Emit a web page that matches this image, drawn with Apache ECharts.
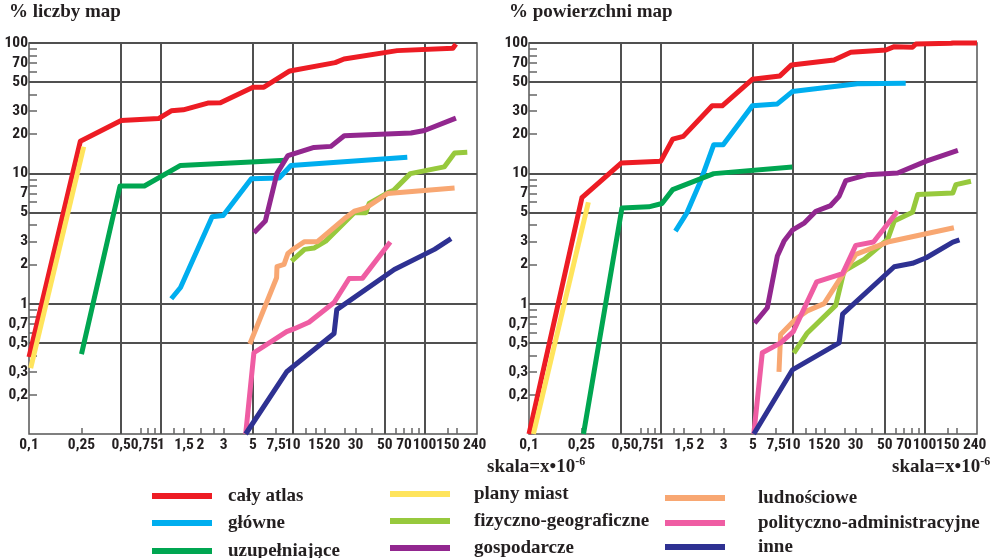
<!DOCTYPE html>
<html>
<head>
<meta charset="utf-8">
<script src="https://cdn.jsdelivr.net/npm/echarts@6/dist/echarts.min.js"></script>
<style>
html,body{margin:0;padding:0;background:#fff;}
#chart{width:995px;height:558px;}
</style>
</head>
<body>
<div id="chart"></div>
<script>
// ---- tick labels / ticks ----
const xTickLabels = [0.1, 0.25, 0.5, 0.75, 1, 1.5, 2, 3, 5, 7.5, 10, 15, 20, 30, 50, 70, 100, 150, 240];
const xMinorTicks = [0.25, 0.7, 0.8, 0.9, 1.25, 1.5, 2, 2.5, 3, 7.5, 12.5, 15, 17.5, 25, 30, 40, 60, 70, 80, 90, 150, 175];
const yTickLabels = [0.2, 0.3, 0.5, 0.7, 1, 2, 3, 5, 7, 10, 20, 30, 50, 70, 100];
const yMinorTicks = [0.2, 0.3, 0.4, 0.6, 0.7, 0.8, 0.9, 2, 3, 4, 6, 7, 8, 9, 20, 30, 40, 60, 70, 80, 90];
const gridValues = [0.5, 1, 5, 10, 50, 100];

// ---- series names ----
const seriesNames = ['cały atlas', 'główne', 'uzupełniające', 'plany miast', 'fizyczno-geograficzne',
  'gospodarcze', 'ludnościowe', 'polityczno-administracyjne', 'inne'];

// ---- left panel: % liczby map ----
const liczbyCalyAtlas = [[0.1,0.39],[0.245,17.6],[0.5,25.4],[0.96,26.3],[1.2,30.2],[1.48,30.7],[2.27,34.6],[2.83,34.8],[5.0,45.8],[6.05,45.8],[9.5,61],[21,70.7],[24.5,75.4],[62,87.4],[164,91],[173,98]];
const liczbyGlowne = [[1.2,1.09],[1.41,1.33],[2.45,4.64],[2.97,4.75],[4.85,9.1],[7.9,9.2],[9.7,11.5],[74,13.3]];
const liczbyUzupelniajace = [[0.25,0.41],[0.49,8.0],[0.75,8.0],[1.41,11.5],[8.9,12.6]];
const liczbyPlanyMiast = [[0.103,0.32],[0.26,16]];
const liczbyFizGeo = [[9.8,2.12],[12.3,2.61],[14.5,2.67],[17.8,3.02],[29.3,4.98],[35.9,4.98],[38,5.87],[52.5,7.08],[58.3,7.4],[78,9.95],[141,11.2],[169,14.3],[211,14.5]];
const liczbyGospodarcze = [[5.08,3.5],[6.2,4.3],[7.6,10.0],[9.2,13.7],[14.5,15.8],[19.5,16.1],[24.6,19.4],[79,20.4],[100,21.3],[173,26.5]];
const liczbyLudnosciowe = [[4.73,0.49],[7.55,1.58],[7.6,1.92],[8.6,2.0],[9.2,2.43],[10.2,2.64],[12.3,2.99],[15.4,2.99],[24.6,4.48],[29.3,5.12],[35.9,5.43],[52.5,7.0],[169,7.73]];
const liczbyPolAdm = [[4.4,0.1],[5.08,0.42],[9.0,0.61],[10.2,0.64],[13.3,0.72],[20.6,1.02],[26.8,1.56],[33.9,1.57],[55,2.97]];
const liczbyInne = [[4.4,0.1],[9.0,0.3],[20.6,0.59],[21.6,0.9],[59,1.83],[119,2.61],[159,3.15]];

// ---- right panel: % powierzchni map ----
const powCalyAtlas = [[0.1,0.1],[0.252,6.5],[0.5,12.0],[1.0,12.4],[1.23,18.3],[1.48,19.2],[2.45,33],[2.92,33],[4.94,52.7],[8.0,55.9],[9.8,67.9],[20.6,74.1],[27.6,84.8],[51,88.4],[58.9,93.7],[81,92.7],[86,98.2],[159,99.4],[165,100],[250,100]];
const powGlowne = [[1.29,3.6],[1.58,5.0],[2.0,8.7],[2.52,16.6],[2.97,16.6],[4.94,33],[7.65,34.1],[9.94,42.4],[31,48.6],[72,49.2]];
const powUzupelniajace = [[0.259,0.1],[0.507,5.43],[0.81,5.53],[1.02,5.87],[1.23,7.5],[2.52,9.95],[9.94,11.2]];
const powPlanyMiast = [[0.108,0.1],[0.282,6.0]];
const powFizGeo = [[10.2,0.417],[12.8,0.59],[21.2,0.97],[24.5,1.78],[34.8,2.19],[52.5,3.11],[58.9,4.3],[81,5.03],[88.8,6.87],[164,7.08],[173,8.19],[225,8.69]];
const powGospodarcze = [[5.14,0.71],[6.42,0.93],[7.65,2.32],[8.6,3.02],[9.94,3.66],[12.3,4.17],[15,5.12],[19.4,5.66],[22.5,6.67],[25.3,8.8],[37,9.77],[62.5,10.07],[103,12.4],[179,15]];
const powLudnosciowe = [[7.87,0.3],[8.1,0.58],[10.5,0.76],[12.9,0.88],[17.3,1.0],[30.1,2.39],[52.5,2.97],[167,3.82]];
const powPolAdm = [[5.07,0.1],[5.88,0.42],[8.1,0.5],[10.1,0.61],[15.2,1.47],[23.9,1.7],[30.1,2.8],[41,2.97],[62.5,5.12]];
const powInne = [[5.07,0.1],[9.94,0.31],[22.5,0.5],[23.9,0.83],[58.9,1.92],[81,2.04],[103,2.25],[164,2.97],[184,3.09]];

const liczbyData = [liczbyCalyAtlas, liczbyGlowne, liczbyUzupelniajace, liczbyPlanyMiast, liczbyFizGeo, liczbyGospodarcze, liczbyLudnosciowe, liczbyPolAdm, liczbyInne];
const powData = [powCalyAtlas, powGlowne, powUzupelniajace, powPlanyMiast, powFizGeo, powGospodarcze, powLudnosciowe, powPolAdm, powInne];

const colors = ['#ED1C24', '#00AEEF', '#00A651', '#FFE45C', '#97C93D', '#92278F', '#F8A772', '#EF5DA3', '#2E3192'];

const X_MIN = 0.1, X_MAX = 250, Y_MIN = 0.1, Y_MAX = 100;
const TXT = '#231F20';
const GRIDC = '#505050';
const numFont = "'Roboto Condensed', 'Open Sans Condensed', sans-serif";
const serifFont = "'Liberation Serif', 'Times New Roman', serif";
const fmt = v => String(+(+v).toPrecision(6)).replace('.', ',');

function xAxes(gridIndex) {
  return [
    { type: 'log', gridIndex, min: X_MIN, max: X_MAX, position: 'bottom',
      axisLine: { show: false },
      axisTick: { show: false, customValues: gridValues },
      splitLine: { show: true, lineStyle: { color: GRIDC, width: 2 } },
      axisLabel: { customValues: xTickLabels, formatter: fmt, margin: 3, showMinLabel: true, showMaxLabel: true, hideOverlap: false,
        fontFamily: numFont, fontWeight: 'bold', fontSize: 15.5, color: TXT } },
    { type: 'log', gridIndex, min: X_MIN, max: X_MAX, position: 'bottom',
      axisLine: { show: false },
      axisTick: { show: true, inside: true, length: 6, customValues: xMinorTicks, lineStyle: { color: '#666', width: 1.5 } },
      splitLine: { show: false }, axisLabel: { show: false } }
  ];
}
function yAxes(gridIndex) {
  return [
    { type: 'log', gridIndex, min: Y_MIN, max: Y_MAX, position: 'left',
      axisLine: { show: false },
      axisTick: { show: false, customValues: gridValues },
      splitLine: { show: true, lineStyle: { color: GRIDC, width: 2 } },
      axisLabel: { customValues: yTickLabels, formatter: fmt, margin: 1, showMinLabel: true, showMaxLabel: true, hideOverlap: false,
        fontFamily: numFont, fontWeight: 'bold', fontSize: 15.5, color: TXT } },
    { type: 'log', gridIndex, min: Y_MIN, max: Y_MAX, position: 'left',
      axisLine: { show: false },
      axisTick: { show: true, inside: true, length: 8, customValues: yMinorTicks, lineStyle: { color: '#666', width: 1.5 } },
      splitLine: { show: false }, axisLabel: { show: false } }
  ];
}

const series = [];
[liczbyData, powData].forEach((panel, p) => {
  panel.forEach((d, i) => {
    series.push({
      type: 'line', name: seriesNames[i], data: d,
      xAxisIndex: p * 2, yAxisIndex: p * 2,
      showSymbol: false, symbol: 'none', clip: false, z: 3 + i,
      itemStyle: { color: colors[i] },
      lineStyle: { color: colors[i], width: 5, join: 'round', cap: 'butt' }
    });
  });
});

// legend: one item per legend component (columns x rows)
const legendCols = [
  { left: 152, pad: 11, rows: [496, 523, 551] },
  { left: 390, pad: 19, rows: [494, 521, 548] },
  { left: 665, pad: 28, rows: [498, 523, 547] }
];
const legends = [];
seriesNames.forEach((name, i) => {
  const col = legendCols[Math.floor(i / 3)];
  legends.push({
    data: [name], left: col.left, top: col.rows[i % 3] - 10,
    icon: 'rect', itemWidth: 60, itemHeight: 6, padding: 0, selectedMode: false,
    textStyle: { fontFamily: serifFont, fontWeight: 'bold', fontSize: 19, color: TXT, lineHeight: 20, padding: [0, 0, 0, col.pad] }
  });
});

const titleStyle = { fontFamily: serifFont, fontWeight: 'bold', fontSize: 19, color: TXT };
const skalaRich = { a: { fontFamily: serifFont, fontWeight: 'bold', fontSize: 19, color: TXT, lineHeight: 22 },
                    b: { fontFamily: serifFont, fontWeight: 'bold', fontSize: 12, color: TXT, verticalAlign: 'top', lineHeight: 22 } };

const option = {
  animation: false,
  backgroundColor: '#fff',
  title: [
    { text: '% liczby map', left: 9, top: 3, padding: 0, textStyle: titleStyle },
    { text: '% powierzchni map', left: 509, top: 3, padding: 0, textStyle: titleStyle },
    { text: '{a|skala=x•10}{b|-6}', left: 487, top: 456, padding: 0, textStyle: { rich: skalaRich } },
    { text: '{a|skala=x•10}{b|-6}', left: 892, top: 456, padding: 0, textStyle: { rich: skalaRich } }
  ],
  grid: [
    { left: 29, top: 43, width: 448, height: 391, show: true, borderColor: '#555', borderWidth: 1.5 },
    { left: 529, top: 43, width: 448, height: 391, show: true, borderColor: '#555', borderWidth: 1.5 }
  ],
  xAxis: [...xAxes(0), ...xAxes(1)],
  yAxis: [...yAxes(0), ...yAxes(1)],
  legend: legends,
  series
};

const chart = echarts.init(document.getElementById('chart'), null, { renderer: 'canvas' });
chart.setOption(option);
</script>
</body>
</html>
